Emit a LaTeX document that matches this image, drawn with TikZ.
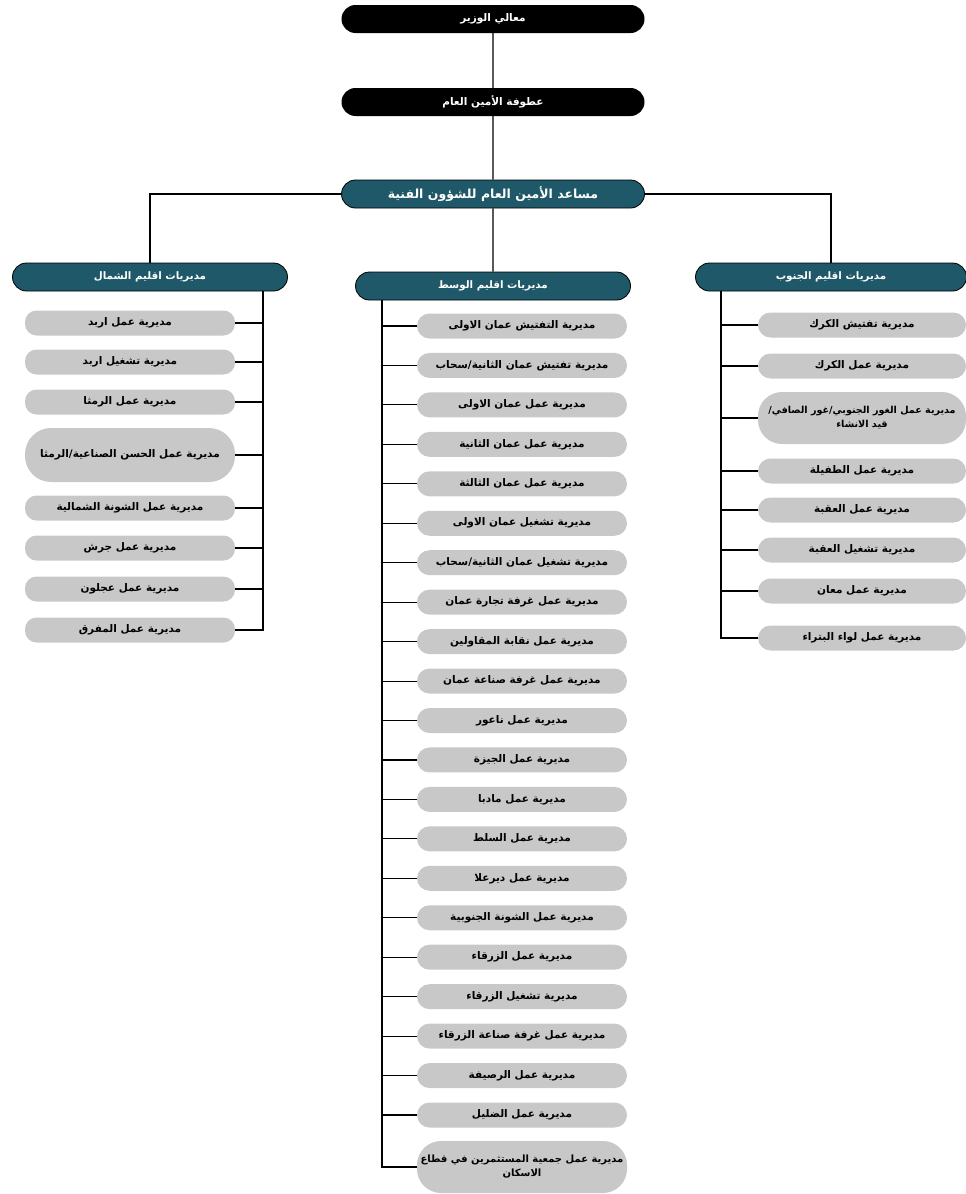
\documentclass[tikz,border=0pt]{standalone}
\usepackage{fontspec}
\newfontfamily\arabicfont[Script=Arabic]{DejaVu Sans}
\TeXXeTstate=1
\usetikzlibrary{shapes.misc,positioning}
\definecolor{boxteal}{RGB}{31,88,104}
\definecolor{pillgray}{RGB}{200,200,200}
\newcommand{\ar}[1]{{\arabicfont\beginR #1\endR}}

\begin{document}
\begin{tikzpicture}[x=1pt,y=-1pt,
    % 顶部黑色框样式
    top style/.style={
        rounded rectangle,      % 圆角矩形
        fill=black,             % 黑色填充
        text=white,             % 白色文字
        minimum width=303,      % 宽度
        minimum height=28,      % 高度
        inner sep=0pt,
        font=\bfseries\fontsize{10.5}{12}\selectfont
    },
    % 区域框样式
    region style/.style={
        rounded rectangle,
        draw=black, line width=0.8pt,
        fill=boxteal,           % 青色填充
        text=white,
        minimum width=275,
        minimum height=28,
        inner sep=0pt,
        font=\bfseries\fontsize{10.3}{12}\selectfont
    },
    % 灰色子节点样式
    unit style/.style={
        rectangle,
        rounded corners=12.5pt, % 两端圆头
        fill=pillgray,          % 灰色填充
        minimum width=210,
        minimum height=25,
        inner sep=0pt,
        align=center,
        font=\bfseries\fontsize{10.5}{14}\selectfont
    },
    % 两行的高节点
    tall unit/.style={
        minimum height=52,
        rounded corners=24pt
    },
    % 连线样式
    link/.style={draw, line width=1.1pt}
]
\useasboundingbox (0,0) rectangle (966,1194);

% 顶层节点
\node[top style] (minister) at (493,19) {\ar{معالي الوزير}};
\node[top style] (secgen) at (493,102) {\ar{عطوفة الأمين العام}};
\node[region style, minimum width=303, font=\bfseries\fontsize{12.5}{14}\selectfont] (assist) at (493,194) {\ar{مساعد الأمين العام للشؤون الفنية}};

% 三个区域
\node[region style] (nreg) at (150,277) {\ar{مديريات اقليم الشمال}};
\node[region style] (creg) at (493,286) {\ar{مديريات اقليم الوسط}};
\node[region style, minimum width=271] (sreg) at (831,277) {\ar{مديريات اقليم الجنوب}};

\draw[link] (minister) -- (secgen) -- (assist) -- (creg);
\draw[link] (assist.west) -| (nreg.north);
\draw[link] (assist.east) -| (sreg.north);

% 北部
\coordinate (nspine) at (263,291);
\foreach \y/\h/\t [count=\i] in {
    323/25/{مديرية عمل اربد},
    362/25/{مديرية تشغيل اربد},
    402/25/{مديرية عمل الرمثا},
    455/54/{مديرية عمل الحسن الصناعية/الرمثا},
    508/25/{مديرية عمل الشونة الشمالية},
    548/25/{مديرية عمل جرش},
    589/25/{مديرية عمل عجلون},
    630/25/{مديرية عمل المفرق}}{
    \node[unit style, minimum height=\h, rounded corners=\h/2-1] (n\i) at (130,\y) {\ar{\t}};
    \draw[link] (nspine) |- (n\i.east);
}

% 中部
\coordinate (cspine) at (382,300);
\foreach \t [count=\i] in {
    {مديرية التفتيش عمان الاولى},
    {مديرية تفتيش عمان الثانية/سحاب},
    {مديرية عمل عمان الاولى},
    {مديرية عمل عمان الثانية},
    {مديرية عمل عمان الثالثة},
    {مديرية تشغيل عمان الاولى},
    {مديرية تشغيل عمان الثانية/سحاب},
    {مديرية عمل غرفة تجارة عمان},
    {مديرية عمل نقابة المقاولين},
    {مديرية عمل غرفة صناعة عمان},
    {مديرية عمل ناعور},
    {مديرية عمل الجيزة},
    {مديرية عمل مادبا},
    {مديرية عمل السلط},
    {مديرية عمل ديرعلا},
    {مديرية عمل الشونة الجنوبية},
    {مديرية عمل الزرقاء},
    {مديرية تشغيل الزرقاء},
    {مديرية عمل غرفة صناعة الزرقاء},
    {مديرية عمل الرصيفة},
    {مديرية عمل الضليل}}{
    \node[unit style] (c\i) at (522,{326+(\i-1)*39.45}) {\ar{\t}};
}
\node[unit style, tall unit, font=\bfseries\fontsize{10}{14}\selectfont] (c22) at (522,1167)
    {\ar{مديرية عمل جمعية المستثمرين في قطاع}\\\ar{الاسكان}};
\foreach \i in {1,...,22}
    \draw[link] (cspine) |- (c\i.west);

% 南部
\coordinate (sspine) at (721,291);
\foreach \y/\t [count=\i] in {
    325/{مديرية تفتيش الكرك},
    366/{مديرية عمل الكرك},
    418/{},
    471/{مديرية عمل الطفيلة},
    510/{مديرية عمل العقبة},
    550/{مديرية تشغيل العقبة},
    591/{مديرية عمل معان},
    638/{مديرية عمل لواء البتراء}}{
    \ifnum\i=3\else
    \node[unit style, minimum width=208] (s\i) at (862,\y) {\ar{\t}};
    \fi
}
\node[unit style, tall unit, minimum width=208, font=\bfseries\fontsize{9.6}{14}\selectfont] (s3) at (862,418)
    {\ar{مديرية عمل الغور الجنوبي/غور الصافي/}\\\ar{قيد الانشاء}};
\foreach \i in {1,...,8}
    \draw[link] (sspine) |- (s\i.west);
\end{tikzpicture}
\end{document}
